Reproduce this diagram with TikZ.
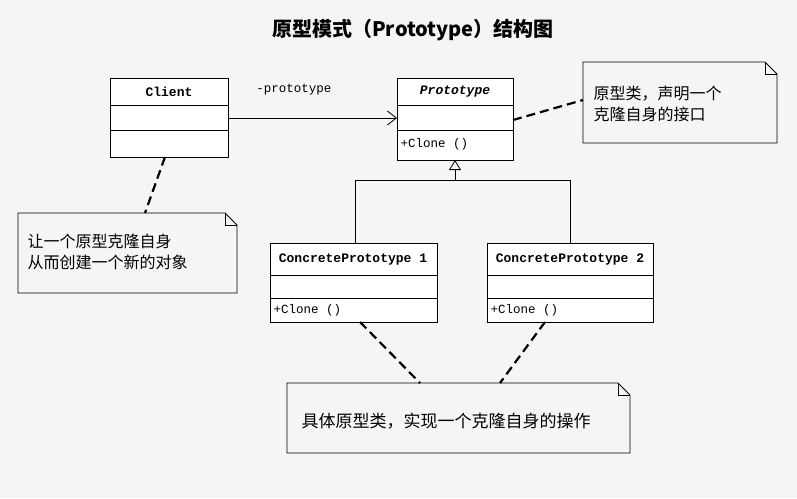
\documentclass[tikz,border=0pt]{standalone}
\usepackage{fontspec}
\setmainfont{Liberation Mono}
\newfontfamily\cjk{Noto Sans CJK SC}
\usetikzlibrary{arrows.meta}
\begin{document}
\begin{tikzpicture}[x=1pt,y=-1pt,
  box/.style={draw,line width=0.8pt,fill=white},
  note/.style={draw,line width=0.8pt},
  dsh/.style={line width=2.2pt,dash pattern=on 9pt off 5pt},
  lbl/.style={font=\fontsize{12.5}{13}\selectfont},
  bl/.style={font=\bfseries\fontsize{13}{14}\selectfont},
  ntxt/.style={font=\cjk\fontsize{16}{21}\selectfont,align=left,anchor=west}]
\fill[white!96!black] (0,0) rectangle (797,498);
\useasboundingbox (0,0) rectangle (797,498);
\node (title) at (413,30) {\cjk\bfseries\fontsize{20}{24}\selectfont 原型模式（Prototype）结构图};
% Client
\draw[box] (110,78) rectangle (228,157);
\draw (110,105) -- (228,105) (110,130) -- (228,130);
\node[bl] (client) at (169,92) {Client};
\coordinate (cR) at (228,118);
\coordinate (cB) at (165,157);
% Prototype
\draw[box] (397,78) rectangle (513,160);
\draw (397,105) -- (513,105) (397,130) -- (513,130);
\node[font=\bfseries\itshape\fontsize{13}{14}\selectfont] (proto) at (455,92) {Prototype};
\node[lbl,anchor=west] (pc) at (397,144) {+Clone ()};
\coordinate (pL) at (397,118);
\coordinate (pR) at (513,120);
\coordinate (pB) at (455,160);
\draw[-{Straight Barb[length=9pt,width=14pt]},line width=0.8pt] (cR) -- (pL);
\node[lbl] (plabel) at (294,90) {-prototype};
% notes
\draw[note] (583,62) -- (765,62) -- (777,74) -- (777,143) -- (583,143) -- cycle;
\draw[note] (765,62) -- (765,74) -- (777,74);
\node[ntxt] (n1) at (590,104) {原型类，声明一个\\克隆自身的接口};
\draw[dsh] (pR) -- (583,100);
\draw[note] (18,213) -- (225,213) -- (237,225) -- (237,293) -- (18,293) -- cycle;
\draw[note] (225,213) -- (225,225) -- (237,225);
\node[ntxt] (n2) at (24,252) {让一个原型克隆自身\\从而创建一个新的对象};
\draw[dsh] (cB) -- (145,213);
\draw[note] (287,383) -- (618,383) -- (630,395) -- (630,453) -- (287,453) -- cycle;
\draw[note] (618,383) -- (618,395) -- (630,395);
\node[ntxt,font=\cjk\fontsize{17}{21}\selectfont] (n3) at (298,421) {具体原型类，实现一个克隆自身的操作};
% concrete
\draw[box] (270,243) rectangle (437,322);
\draw (270,275) -- (437,275) (270,298) -- (437,298);
\node[bl] (cp1) at (353,259) {ConcretePrototype 1};
\node[lbl,anchor=west] at (270,310) {+Clone ()};
\draw[box] (487,243) rectangle (653,322);
\draw (487,275) -- (653,275) (487,298) -- (653,298);
\node[bl] (cp2) at (570,259) {ConcretePrototype 2};
\node[lbl,anchor=west] at (487,310) {+Clone ()};
% inheritance
\draw[line width=0.8pt] (355,243) -- (355,180) -- (570,180) -- (570,243);
\draw[line width=0.8pt,-{Triangle[open,length=10pt,width=12pt]}] (455,180) -- (pB);
\draw[dsh] (360,322) -- (420,383);
\draw[dsh] (545,322) -- (500,383);
\end{tikzpicture}
\end{document}
